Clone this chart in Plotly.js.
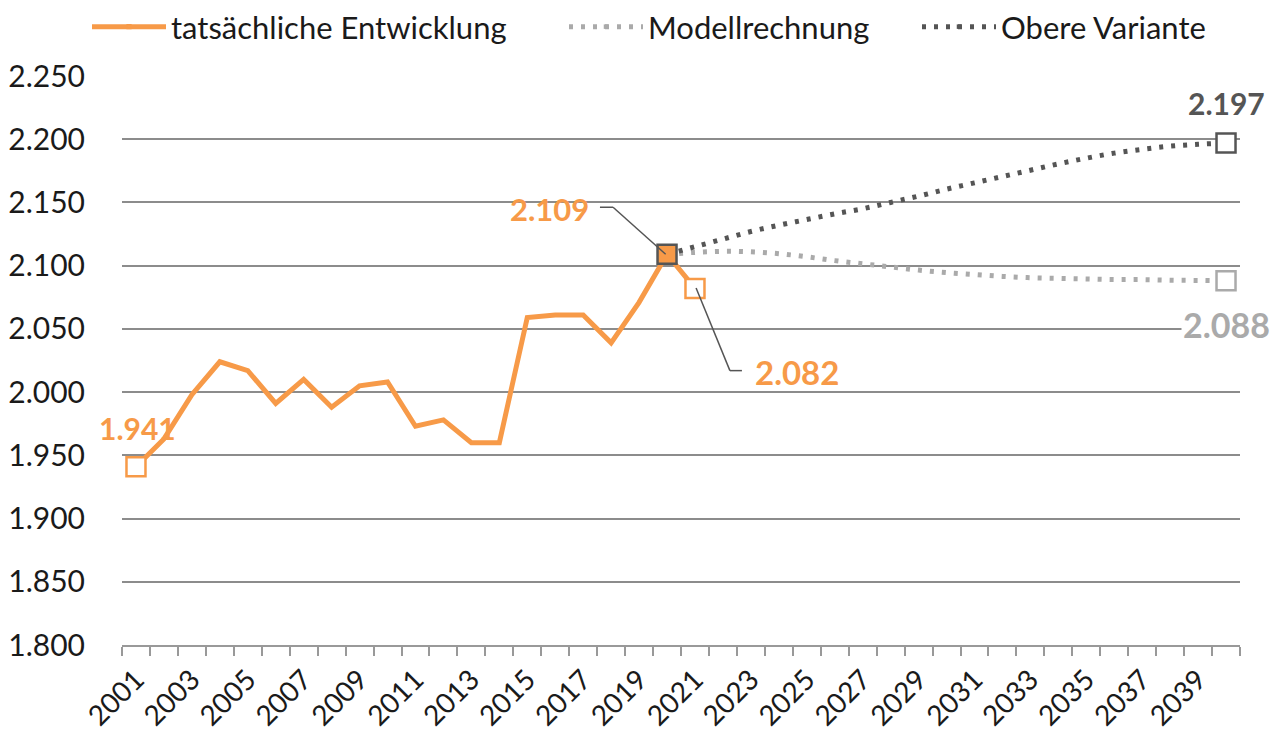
<!DOCTYPE html>
<html><head><meta charset="utf-8">
<script src="https://cdn.plot.ly/plotly-3.0.1.min.js"></script>
<style>html,body{margin:0;padding:0;background:#fff}#chart{width:1284px;height:731px}</style>
</head><body><div id="chart"></div>
<script>
const years = ["2001","2002","2003","2004","2005","2006","2007","2008","2009","2010",
  "2011","2012","2013","2014","2015","2016","2017","2018","2019","2020",
  "2021","2022","2023","2024","2025","2026","2027","2028","2029","2030",
  "2031","2032","2033","2034","2035","2036","2037","2038","2039","2040"];
const tickLabels = ["2001","","2003","","2005","","2007","","2009","",
  "2011","","2013","","2015","","2017","","2019","",
  "2021","","2023","","2025","","2027","","2029","",
  "2031","","2033","","2035","","2037","","2039",""];

const actualYears = ["2001","2002","2003","2004","2005","2006","2007","2008","2009","2010",
  "2011","2012","2013","2014","2015","2016","2017","2018","2019","2020","2021"];
const actualValues = [1941,1963,1998,2024,2017,1991,2010,1988,2005,2008,
  1973,1978,1960,1960,2059,2061,2061,2039,2071,2109,2082];

const projYears = ["2020","2021","2022","2023","2024","2025","2026","2027","2028","2029",
  "2030","2031","2032","2033","2034","2035","2036","2037","2038","2039","2040"];
const modellValues = [2109,2110.5,2111.3,2111,2109.5,2107,2104,2101.5,2099,2096.5,
  2094.5,2093,2091.5,2090.5,2090,2089.5,2089,2089,2088.5,2088.3,2088];
const obereValues = [2109,2115,2121,2127,2132,2136.5,2141,2145,2150,2155,
  2160.5,2165.5,2170.5,2175.5,2180.5,2185,2189,2192,2194.5,2196,2197];

const seriesNames = ["tatsächliche Entwicklung","Modellrechnung","Obere Variante"];

const ORANGE = "#F79A48", DARK = "#555555", LIGHT = "#AAAAAA";
const FONT = "Lato, 'Open Sans', sans-serif";

const fmt = v => String(Math.round(v)).replace(/\B(?=(\d{3})+$)/, ".");
const idx = y => years.indexOf(y);

const nA = actualValues.length, nP = projYears.length;
const aSize = actualValues.map((v,i)=> (i===0||i>=nA-2) ? 19 : 0);
const aFill = actualValues.map((v,i)=> i===nA-2 ? ORANGE : "#ffffff");
const aLine = actualValues.map((v,i)=> i===nA-2 ? DARK : ORANGE);
const pSize = projYears.map((v,i)=> i===nP-1 ? 19 : 0);

const traces = [
  {x: projYears, y: modellValues, name: seriesNames[1], type:"scatter", mode:"lines+markers",
   legend:"legend2",
   line:{color:LIGHT, width:5, dash:"4px,8px", shape:"spline"},
   marker:{symbol:"square", size:pSize, opacity:1, color:"#ffffff", line:{color:LIGHT, width:2.5}}},
  {x: projYears, y: obereValues, name: seriesNames[2], type:"scatter", mode:"lines+markers",
   legend:"legend3",
   line:{color:DARK, width:5, dash:"4px,8px", shape:"spline"},
   marker:{symbol:"square", size:pSize, opacity:1, color:"#ffffff", line:{color:DARK, width:2.5}}},
  {x: actualYears, y: actualValues, name: seriesNames[0], type:"scatter", mode:"lines+markers",
   legend:"legend",
   line:{color:ORANGE, width:5},
   marker:{symbol:"square", size:aSize, opacity:1, color:aFill, line:{color:aLine, width:2.5}}}
];

const lastA = nA-1, peakA = nA-2;
const annotations = [
  {x: idx(actualYears[0]), y: actualValues[0], text: fmt(actualValues[0]), showarrow:false,
   yshift: 39, xshift: 2, font:{family:FONT, size:30, color:ORANGE, weight:700}},
  {x: idx(actualYears[peakA]), y: actualValues[peakA], text: fmt(actualValues[peakA]), showarrow:false,
   xshift: -118, yshift: 45, font:{family:FONT, size:31, color:ORANGE, weight:700}},
  {x: idx(actualYears[lastA]), y: actualValues[lastA], text: fmt(actualValues[lastA]), showarrow:false,
   xshift: 102, yshift: -84, font:{family:FONT, size:33, color:ORANGE, weight:700}},
  {x: idx(projYears[nP-1]), y: obereValues[nP-1], text: fmt(obereValues[nP-1]), showarrow:false,
   yshift: 40, font:{family:FONT, size:30, color:DARK, weight:700}},
  {x: idx(projYears[nP-1]), y: modellValues[nP-1], text: fmt(modellValues[nP-1]), showarrow:false,
   yshift: -44, xshift: 0, bgcolor:"#ffffff", borderpad:1, font:{family:FONT, size:34, color:LIGHT, weight:700}}
];

const shapes = [
  {type:"line", xref:"x", yref:"y", x0:16.6, x1:17.07, y0:2146.2, y1:2146.2, line:{color:DARK, width:1.5}},
  {type:"line", xref:"x", yref:"y", x0:17.07, x1:18.95, y0:2146.2, y1:2109, line:{color:DARK, width:1.5}},
  {type:"line", xref:"x", yref:"y", x0:20.04, x1:21.25, y0:2082.4, y1:2017, line:{color:DARK, width:1.5}},
  {type:"line", xref:"x", yref:"y", x0:21.25, x1:21.68, y0:2017, y1:2017, line:{color:DARK, width:1.5}}
];

const legFont = {family:FONT, size:31, color:"#1a1a1a"};
const legBase = {orientation:"h", yref:"container", y:1, yanchor:"top", xref:"container",
  xanchor:"left", itemwidth:74, font:legFont, bgcolor:"rgba(0,0,0,0)"};

const layout = {
  width:1284, height:731,
  margin:{l:122, r:44, t:76, b:86},
  paper_bgcolor:"#ffffff", plot_bgcolor:"#ffffff",
  separators:",.",
  font:{family:FONT, color:"#1a1a1a"},
  showlegend:true,
  legend: Object.assign({}, legBase, {x: 87/1284}),
  legend2: Object.assign({}, legBase, {x: 564/1284}),
  legend3: Object.assign({}, legBase, {x: 917/1284}),
  xaxis:{type:"category", categoryorder:"array", categoryarray:years,
    range:[-0.5, years.length-0.5], tickmode:"array", tickvals:years, ticktext:tickLabels,
    tickson:"boundaries", ticks:"outside", ticklen:9, tickwidth:2, tickcolor:"#999999",
    showline:true, linecolor:"#999999", linewidth:2, showgrid:false, zeroline:false,
    tickangle:-45, ticklabelstandoff:5, tickfont:{family:FONT, size:28, color:"#1a1a1a"}, fixedrange:true},
  yaxis:{range:[1800,2250], dtick:50, tick0:1800, tickformat:",d",
    showgrid:true, gridcolor:"#8c8c8c", gridwidth:2, zeroline:false, showline:false,
    ticks:"", ticklabelstandoff:36, tickfont:{family:FONT, size:30, color:"#1a1a1a"}, fixedrange:true},
  annotations: annotations,
  shapes: shapes
};

Plotly.newPlot("chart", traces, layout, {displayModeBar:false, staticPlot:true});
</script>
</body></html>
